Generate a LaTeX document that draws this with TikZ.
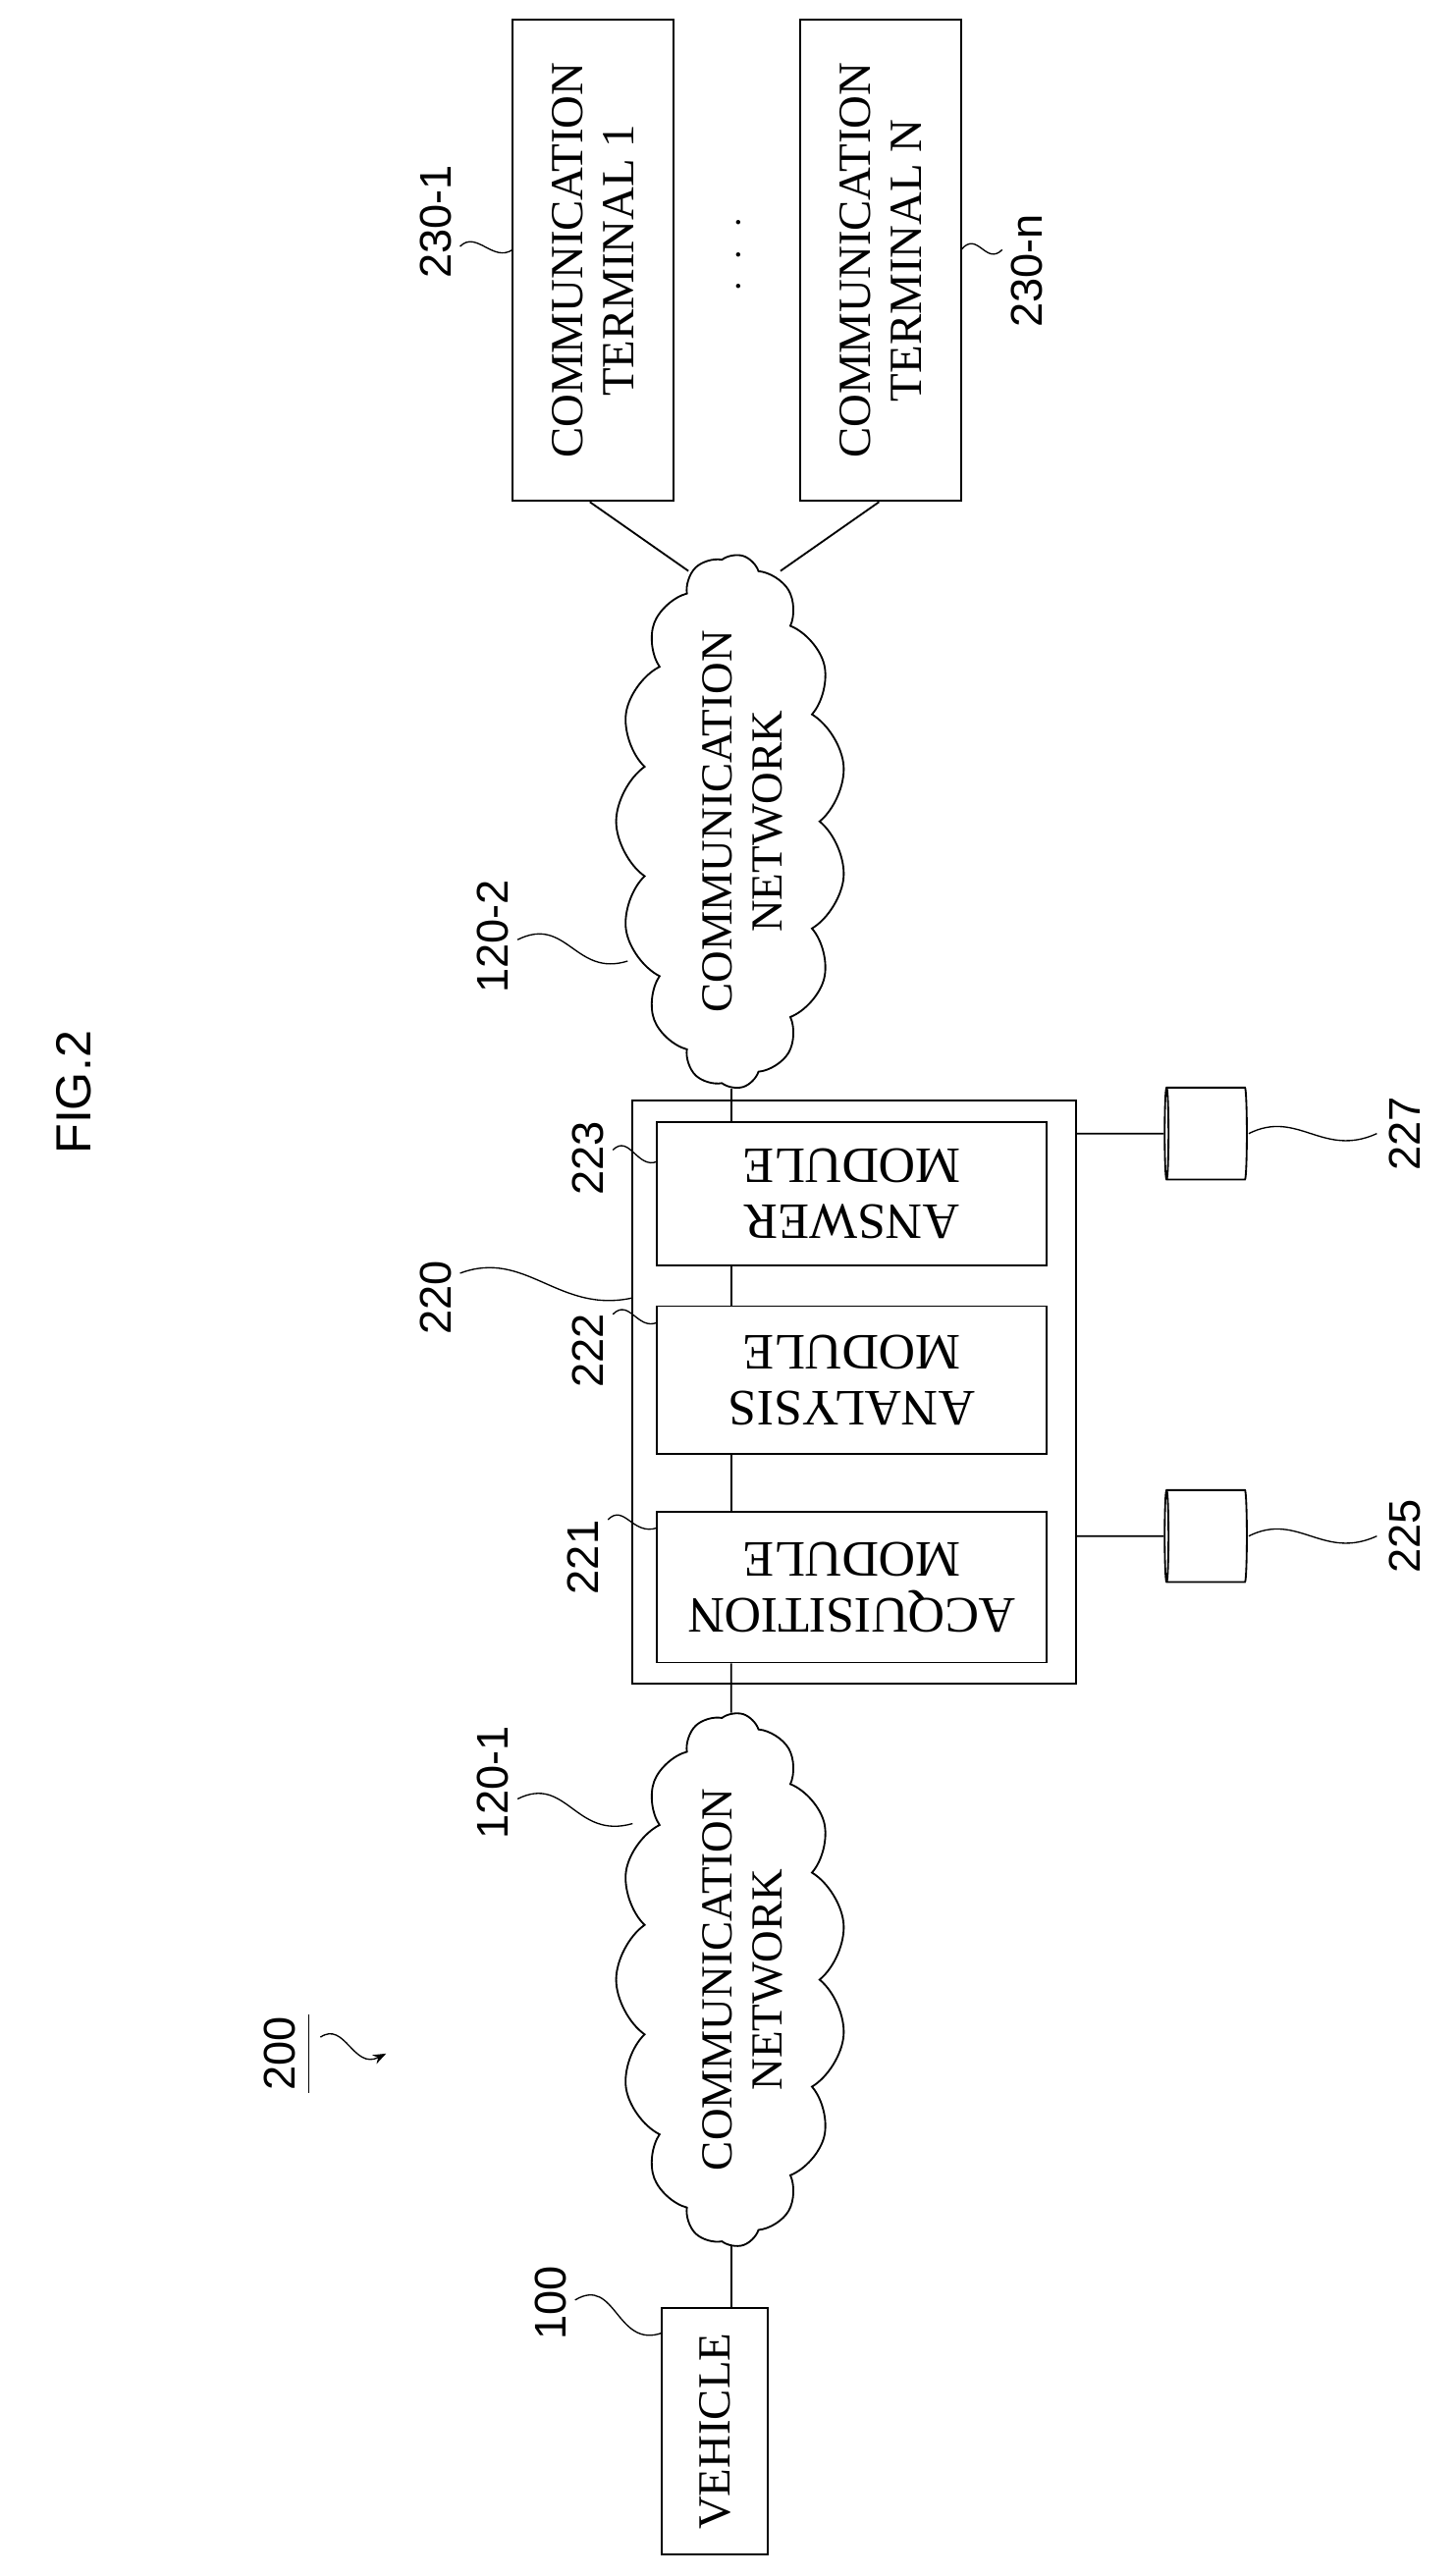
\documentclass[tikz,border=0pt]{standalone}
\usepackage{fontspec}
\setmainfont{Liberation Serif}
\newfontfamily\lab{Liberation Sans}
\usetikzlibrary{shapes.symbols,shapes.geometric,arrows.meta}
\begin{document}
\begin{tikzpicture}[x=1pt,y=-1pt,line width=1.1pt,
  box/.style={draw,rectangle,align=center,inner sep=2pt,font=\fontsize{28}{31}\selectfont},
  up/.style={box,rotate=90},
  flip/.style={box,rotate=180,inner sep=0pt,font=\fontsize{31}{34}\selectfont},
  cl/.style={draw,cloud,cloud puffs=15,cloud puff arc=110,aspect=2.3,rotate=90,
     inner sep=0pt,minimum width=325,minimum height=140},
  ct/.style={rotate=90,align=center,inner sep=0pt,font=\fontsize{27}{30}\selectfont},
  lb/.style={rotate=90,font=\lab\fontsize{27}{30}\selectfont,inner sep=1pt},
  db/.style={draw,cylinder,shape border rotate=180,aspect=0.35,minimum width=56,minimum height=50},
  ld/.style={line width=0.8pt}]
\useasboundingbox (0,0) rectangle (886,1568);
\node[lb,font=\lab\fontsize{30}{34}\selectfont] (fig) at (45,665) {FIG.2};
\node[up,minimum width=150,minimum height=65] (veh) at (435,1480) {VEHICLE};
\node[cl] (c1) at (445,1205) {};
\node[ct] (c1t) at (452,1205) {COMMUNICATION\\NETWORK};
\node[cl] (c2) at (445,500) {};
\node[ct] (c2t) at (452,500) {COMMUNICATION\\NETWORK};
\node[draw,minimum width=270,minimum height=355] (b220) at (520,847.5) {};
\node[flip,minimum height=92,minimum width=237] (acq) at (518.5,966) {ACQUISITION\\MODULE};
\node[flip,minimum height=90,minimum width=237] (ana) at (518.5,840) {ANALYSIS\\MODULE};
\node[flip,minimum height=87,minimum width=237] (ans) at (518.5,726.5) {ANSWER\\MODULE};
\node[db] (d225) at (735,935) {};
\node[db] (d227) at (735,690) {};
\node[up,minimum width=293,minimum height=98] (t1) at (361,158.5) {COMMUNICATION\\TERMINAL 1};
\node[up,minimum width=293,minimum height=98] (tn) at (536,158.5) {COMMUNICATION\\TERMINAL N};
\node[lb,font=\fontsize{24}{24}\selectfont] (dots) at (450,155) {$\cdot\;\cdot\;\cdot$};
% connectors
\draw (c1 |- veh.east) -- (c1);
\draw (c1) -- (c1 |- acq.north);
\draw (c1 |- acq.south) -- (c1 |- ana.north);
\draw (c1 |- ana.south) -- (c1 |- ans.north);
\draw (c1 |- ans.south) -- (c2);
\draw (b220.east |- d225) -- (d225);
\draw (b220.east |- d227) -- (d227);
\draw ([xshift=-2]t1.west) -- ++(60,42);
\draw ([xshift=-1]tn.west) -- ++(-60,42);
% labels
\node[lb] (l100) at (335,1402) {100};
\draw[ld] (350,1400) .. controls (375,1385) and (375,1430) .. (403,1420);
\node[lb] (l1201) at (300,1085) {120-1};
\draw[ld] (315,1095) .. controls (345,1080) and (350,1120) .. (385,1110);
\node[lb] (l200) at (170,1250) {200};
\draw[ld] (188,1226) -- (188,1274);
\draw[ld,-{Stealth[length=8pt]}] (195,1240) .. controls (210,1230) and (215,1260) .. (235,1250);
\node[lb] (l1202) at (300,570) {120-2};
\draw[ld] (315,572) .. controls (345,557) and (350,595) .. (382,585);
\node[lb] (l220) at (265,790) {220};
\draw[ld] (280,775) .. controls (320,760) and (340,800) .. (385,790);
\node[lb] (l221) at (355,948) {221};
\draw[ld] (370,925) .. controls (380,915) and (385,935) .. (400,930);
\node[lb] (l222) at (358,822) {222};
\draw[ld] (373,800) .. controls (383,790) and (388,810) .. (400,805);
\node[lb] (l223) at (358,705) {223};
\draw[ld] (373,700) .. controls (383,690) and (388,712) .. (400,707);
\node[lb] (l225) at (855,935) {225};
\draw[ld] (760,935) .. controls (790,920) and (805,950) .. (838,935);
\node[lb] (l227) at (855,690) {227};
\draw[ld] (760,690) .. controls (790,675) and (805,705) .. (838,690);
\node[lb] (l2301) at (265,135) {230-1};
\draw[ld] (280,150) .. controls (290,140) and (300,160) .. (312,152);
\node[lb] (l230n) at (625,165) {230-n};
\draw[ld] (585,152) .. controls (595,140) and (600,162) .. (610,152);
\end{tikzpicture}
\end{document}
